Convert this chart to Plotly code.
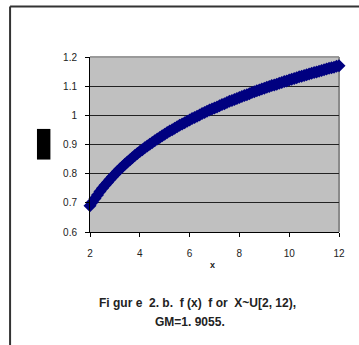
import plotly.graph_objects as go

# f(x) sampled over X ~ U[2, 12]
x_vals = [round(2 + 0.1 * i, 1) for i in range(101)]
f_vals = [
    0.690, 0.703, 0.715, 0.727, 0.739, 0.750, 0.760, 0.770, 0.780, 0.789,
    0.798, 0.807, 0.816, 0.824, 0.832, 0.840, 0.847, 0.855, 0.862, 0.869,
    0.876, 0.882, 0.889, 0.895, 0.901, 0.907, 0.913, 0.919, 0.924, 0.930,
    0.935, 0.941, 0.946, 0.951, 0.956, 0.961, 0.966, 0.970, 0.975, 0.980,
    0.984, 0.989, 0.993, 0.997, 1.001, 1.006, 1.010, 1.014, 1.018, 1.022,
    1.025, 1.029, 1.033, 1.037, 1.040, 1.044, 1.048, 1.051, 1.054, 1.058,
    1.061, 1.065, 1.068, 1.071, 1.074, 1.078, 1.081, 1.084, 1.087, 1.090,
    1.093, 1.096, 1.099, 1.102, 1.104, 1.107, 1.110, 1.113, 1.116, 1.118,
    1.121, 1.124, 1.126, 1.129, 1.132, 1.134, 1.137, 1.139, 1.142, 1.144,
    1.147, 1.149, 1.151, 1.154, 1.156, 1.159, 1.161, 1.163, 1.165, 1.168,
    1.170,
]

x_ticks = [2, 4, 6, 8, 10, 12]
y_ticks = [0.6, 0.7, 0.8, 0.9, 1.0, 1.1, 1.2]
y_tick_text = ["0.6", "0.7", "0.8", "0.9", "1", "1.1", "1.2"]

caption_line1 = "Fi gur e  2. b.  f (x)  f or  X~U[2, 12),"
caption_line2 = "GM=1. 9055."

FONT = "Liberation Sans, Arial, sans-serif"

fig = go.Figure()
fig.add_trace(go.Scatter(
    x=x_vals, y=f_vals, mode="markers",
    marker=dict(symbol="diamond", size=10, color="#000080", line=dict(width=0)),
    cliponaxis=False, showlegend=False,
))

fig.update_layout(
    width=359, height=345,
    margin=dict(l=90, r=20, t=57, b=113),
    paper_bgcolor="white",
    plot_bgcolor="#C0C0C0",
    font=dict(family=FONT, size=10, color="#222"),
    xaxis=dict(
        range=[2, 12], tickvals=x_ticks, ticks="outside", ticklen=4,
        tickcolor="black", showline=True, linecolor="black", linewidth=1,
        showgrid=False, zeroline=False, fixedrange=True,
        ticklabelstandoff=8,
        tickfont=dict(size=10, color="#222"),
    ),
    yaxis=dict(
        range=[0.6, 1.2], tickvals=y_ticks, ticktext=y_tick_text,
        ticks="outside", ticklen=4, tickcolor="black",
        showline=True, linecolor="black", linewidth=1,
        showgrid=True, gridcolor="#222", gridwidth=1, zeroline=False,
        fixedrange=True, ticklabelstandoff=6,
        tickfont=dict(size=10, color="#222"),
    ),
    shapes=[
        # plot-area frame (top and right edges)
        dict(type="line", xref="paper", yref="paper", x0=0, x1=1, y0=1, y1=1,
             line=dict(color="#9a9a9a", width=2), layer="below"),
        dict(type="line", xref="paper", yref="paper", x0=1, x1=1, y0=0, y1=1,
             line=dict(color="#8a8a8a", width=2), layer="below"),
        # chart-area border
        dict(type="line", xref="paper", yref="paper", x0=-0.321, x1=1.2,
             y0=1.289, y1=1.289, line=dict(color="#333", width=2)),
        dict(type="line", xref="paper", yref="paper", x0=-0.321, x1=-0.321,
             y0=1.289, y1=-0.8, line=dict(color="#333", width=2)),
        # y-axis title block
        dict(type="rect", xref="paper", yref="paper", x0=-0.213, x1=-0.159,
             y0=0.414, y1=0.589, fillcolor="black", line=dict(width=0)),
    ],
    annotations=[
        dict(text="<b>x</b>", xref="paper", yref="paper", x=0.49, y=-0.19,
             showarrow=False, font=dict(size=9, color="#222"),
             xanchor="center", yanchor="middle"),
        dict(text="<b>" + caption_line1 + "</b>", xref="paper", yref="paper",
             x=0.43, y=-0.404, showarrow=False,
             font=dict(size=12, color="#222"), xanchor="center", yanchor="middle"),
        dict(text="<b>" + caption_line2 + "</b>", xref="paper", yref="paper",
             x=0.40, y=-0.513, showarrow=False,
             font=dict(size=12, color="#222"), xanchor="center", yanchor="middle"),
    ],
)

fig.write_html("out.html")
